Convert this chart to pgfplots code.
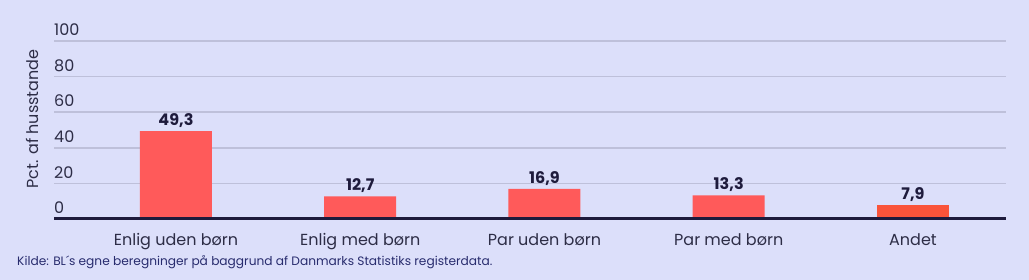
\documentclass[border=0pt]{standalone}
\usepackage{pgfplots}
\pgfplotsset{compat=1.18}
\usepackage{fontspec}
\setmainfont{Poppins}
\definecolor{bg}{RGB}{220,223,250}
\definecolor{barred}{RGB}{255,90,90}
\definecolor{barorange}{RGB}{250,84,58}
\definecolor{gridc}{RGB}{190,192,218}
\definecolor{txt}{RGB}{45,45,70}
\definecolor{navy}{RGB}{30,27,60}
\definecolor{src}{RGB}{40,44,110}
\begin{document}
\begin{tikzpicture}[x=1pt,y=1pt]
\fill[bg] (0,0) rectangle (1029,280);
\begin{axis}[
  at={(54pt,61pt)}, anchor=south west,
  scale only axis, width=952pt, height=178pt,
  ymin=0, ymax=100, xmin=-0.662, xmax=4.505,
  axis line style={draw=none},
  ytick={0,20,...,100},
  ymajorgrids, grid style={gridc, line width=1.6pt},
  major tick length=0pt,
  yticklabel style={anchor=south west, inner sep=0pt, yshift=5pt, font=\fontsize{16}{18}\selectfont, text=txt},
  xtick={0,1,2,3,4},
  xticklabels={Enlig uden børn, Enlig med børn, Par uden børn, Par med børn, Andet},
  xticklabel style={anchor=north, inner sep=0pt, yshift=-14pt, font=\fontsize{16}{18}\selectfont, text=txt},
  /pgf/number format/assume math mode=true,
  ybar, bar width=72pt, bar shift=0pt,
  nodes near coords,
  nodes near coords style={font=\bfseries\fontsize{16}{18}\selectfont, text=navy, anchor=south, yshift=0pt,
    /pgf/number format/.cd, use comma, fixed, fixed zerofill, precision=1, assume math mode=true},
  clip=false,
]
\addplot[fill=barred, draw=none] coordinates {(0,49.3) (1,12.7) (2,16.9) (3,13.3)};
\addplot[fill=barorange, draw=none] coordinates {(4,7.9)};
\draw[navy, line width=3pt] (axis cs:-0.662,0) -- (axis cs:4.505,0);
\end{axis}
\node[rotate=90, text=txt, font=\fontsize{16}{18}\selectfont] at (32,161) {Pct. af husstande};
\node[anchor=west, inner sep=0pt, text=src, font=\fontsize{12.2}{14}\selectfont] at (17,17.5) {Kilde: BL´s egne beregninger på baggrund af Danmarks Statistiks registerdata.};
\end{tikzpicture}
\end{document}
